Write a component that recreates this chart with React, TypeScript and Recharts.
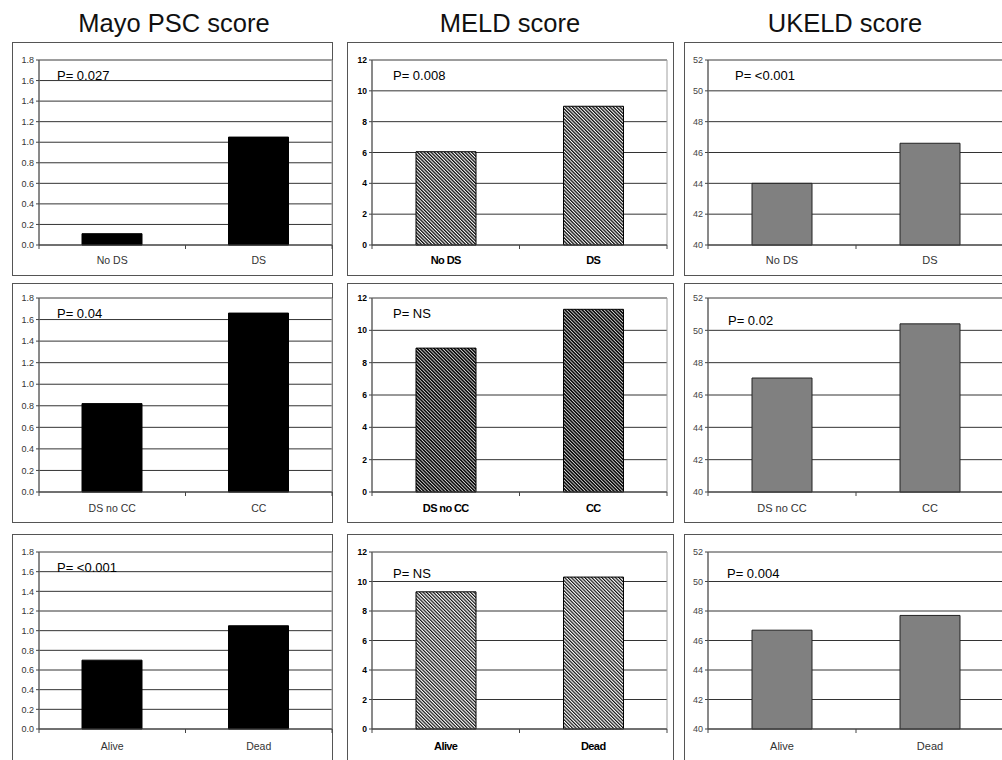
import React from 'react';
import { BarChart, Bar, XAxis, YAxis, CartesianGrid, ReferenceArea } from 'recharts';

// data, one row per comparison
const rowCategories = [
  ['No DS', 'DS'],
  ['DS no CC', 'CC'],
  ['Alive', 'Dead'],
];

const mayoValues = [[0.11, 1.05], [0.82, 1.66], [0.7, 1.05]];
const meldValues = [[6.05, 9.0], [8.9, 11.3], [9.3, 10.3]];
const ukeldValues = [[44.0, 46.6], [47.05, 50.4], [46.7, 47.7]];

const mayoP = ['0.027', '0.04', '<0.001'];
const meldP = ['0.008', 'NS', 'NS'];
const ukeldP = ['<0.001', '0.02', '0.004'];

const titles = ['Mayo PSC score', 'MELD score', 'UKELD score'];

const mayoTicks = [0, 0.2, 0.4, 0.6, 0.8, 1.0, 1.2, 1.4, 1.6, 1.8];
const meldTicks = [0, 2, 4, 6, 8, 10, 12];
const ukeldTicks = [40, 42, 44, 46, 48, 50, 52];

const allValues = [mayoValues, meldValues, ukeldValues];
const allP = [mayoP, meldP, ukeldP];
const allTicks = [mayoTicks, meldTicks, ukeldTicks];

// layout
const cols = [
  { boxX: 12, boxW: 321, plotLeft: 39, plotRight: 332, titleX: 174 },
  { boxX: 347, boxW: 327, plotLeft: 372, plotRight: 667, titleX: 510 },
  { boxX: 684, boxW: 327, plotLeft: 708, plotRight: 1004, titleX: 845 },
];
const rows = [
  { boxY: 42, boxH: 234, plotTop: 60, plotBottom: 245, labelGap: 15 },
  { boxY: 283, boxH: 240, plotTop: 298, plotBottom: 492, labelGap: 16 },
  { boxY: 534, boxH: 240, plotTop: 552, plotBottom: 729, labelGap: 17 },
];
const pPos = [
  [[57, 75], [393, 75], [735, 75]],
  [[57, 313], [393, 313], [728, 320]],
  [[57, 567], [393, 573], [727, 573]],
];

const FONT = "'Liberation Sans', Arial, sans-serif";
const NARROW = "'Liberation Sans Narrow', 'Arial Narrow', 'Liberation Sans', Arial, sans-serif";

const colStyles = [
  {
    barFill: () => '#000',
    barStroke: '#000',
    yTick: { fontSize: 9, fill: '#333', fontFamily: FONT },
    xTick: { fontSize: 10.5, fill: '#333', fontFamily: FONT },
    fmt: (v: number) => v.toFixed(1),
  },
  {
    barFill: (row: number) => (row === 1 ? 'url(#hatchDark)' : row === 0 ? 'url(#hatchMid)' : 'url(#hatchLight)'),
    barStroke: '#000',
    yTick: { fontSize: 8.5, fill: '#000', fontFamily: NARROW, fontWeight: 'bold' },
    xTick: { fontSize: 11, fill: '#000', fontFamily: NARROW, fontWeight: 'bold', letterSpacing: -0.6 },
    fmt: (v: number) => String(v),
  },
  {
    barFill: () => '#808080',
    barStroke: '#222',
    yTick: { fontSize: 9, fill: '#444', fontFamily: FONT },
    xTick: { fontSize: 11, fill: '#333', fontFamily: FONT },
    fmt: (v: number) => String(v),
  },
];

const makeXTick = (band: number, count: number, style: any, gap: number) => (props: any) => {
  const { x, y, payload } = props;
  const index = props.index ?? payload.index ?? 0;
  return (
    <g>
      <line x1={x - band / 2} x2={x - band / 2} y1={y} y2={y + 4} stroke="#444" />
      {index === count - 1 && <line x1={x + band / 2} x2={x + band / 2} y1={y} y2={y + 4} stroke="#444" />}
      <text x={x} y={y + gap} dy="0.35em" textAnchor="middle" {...style}>
        {payload.value}
      </text>
    </g>
  );
};

const Panel = ({ col, row }: { col: number; row: number }) => {
  const c = cols[col];
  const r = rows[row];
  const s = colStyles[col];
  const ticks = allTicks[col];
  const values = allValues[col][row];
  const data = rowCategories[row].map((name, i) => ({ name, value: values[i] }));
  const band = (c.plotRight - c.plotLeft) / data.length;
  const domain = [ticks[0], ticks[ticks.length - 1]];

  return (
    <div
      style={{
        position: 'absolute',
        left: c.boxX,
        top: r.boxY,
        width: c.boxW,
        height: r.boxH,
        border: '1px solid #555',
        boxSizing: 'border-box',
        background: '#fff',
      }}
    >
      <div style={{ position: 'absolute', left: -1, top: -1 }}>
        <BarChart
          width={c.boxW}
          height={r.boxH}
          data={data}
          margin={{ top: r.plotTop - r.boxY, right: c.boxX + c.boxW - c.plotRight, bottom: 0, left: 0 }}
        >
          <CartesianGrid vertical={false} stroke="#333" />
          <ReferenceArea y1={domain[0]} y2={domain[1]} fill="none" stroke="#a0a0a0" ifOverflow="visible" />
          <XAxis
            dataKey="name"
            height={r.boxY + r.boxH - r.plotBottom}
            tickSize={0}
            tickMargin={0}
            interval={0}
            axisLine={{ stroke: '#444' }}
            tickLine={false}
            tick={makeXTick(band, data.length, s.xTick, r.labelGap)}
          />
          <YAxis
            type="number"
            domain={domain}
            ticks={ticks}
            interval={0}
            width={c.plotLeft - c.boxX}
            tickSize={3}
            tickMargin={2}
            axisLine={{ stroke: '#444' }}
            tickLine={{ stroke: '#444' }}
            tick={s.yTick}
            tickFormatter={s.fmt}
          />
          <Bar dataKey="value" barSize={60} fill={s.barFill(row)} stroke={s.barStroke} strokeWidth={1} isAnimationActive={false} />
        </BarChart>
      </div>
    </div>
  );
};

export default function App() {
  return (
    <div
      style={{
        position: 'absolute',
        left: 0,
        top: 0,
        width: 1002,
        height: 760,
        overflow: 'hidden',
        background: '#fff',
        fontFamily: FONT,
      }}
    >
      <svg width={0} height={0} style={{ position: 'absolute' }}>
        <defs>
          <pattern id="hatchMid" width={2.4} height={2.4} patternUnits="userSpaceOnUse" patternTransform="rotate(-45)">
            <rect width={2.4} height={2.4} fill="#fff" />
            <rect width={1.35} height={2.4} fill="#111" />
          </pattern>
          <pattern id="hatchDark" width={2.4} height={2.4} patternUnits="userSpaceOnUse" patternTransform="rotate(-45)">
            <rect width={2.4} height={2.4} fill="#fff" />
            <rect width={1.75} height={2.4} fill="#111" />
          </pattern>
          <pattern id="hatchLight" width={2.4} height={2.4} patternUnits="userSpaceOnUse" patternTransform="rotate(-45)">
            <rect width={2.4} height={2.4} fill="#fff" />
            <rect width={1.2} height={2.4} fill="#111" />
          </pattern>
        </defs>
      </svg>
      {rows.map((_, ri) => cols.map((_, ci) => <Panel key={`${ri}-${ci}`} col={ci} row={ri} />))}
      <svg width={1002} height={760} style={{ position: 'absolute', left: 0, top: 0, pointerEvents: 'none' }}>
        {titles.map((t, ci) => (
          <text key={t} x={cols[ci].titleX} y={32} textAnchor="middle" fontSize={25.5} fill="#111" fontFamily={FONT}>
            {t}
          </text>
        ))}
        {rows.map((_, ri) =>
          cols.map((_, ci) => (
            <text
              key={`p-${ri}-${ci}`}
              x={pPos[ri][ci][0]}
              y={pPos[ri][ci][1]}
              dy="0.35em"
              fontSize={13}
              fill="#000"
              fontFamily={FONT}
            >
              {`P= ${allP[ci][ri]}`}
            </text>
          ))
        )}
      </svg>
    </div>
  );
}
